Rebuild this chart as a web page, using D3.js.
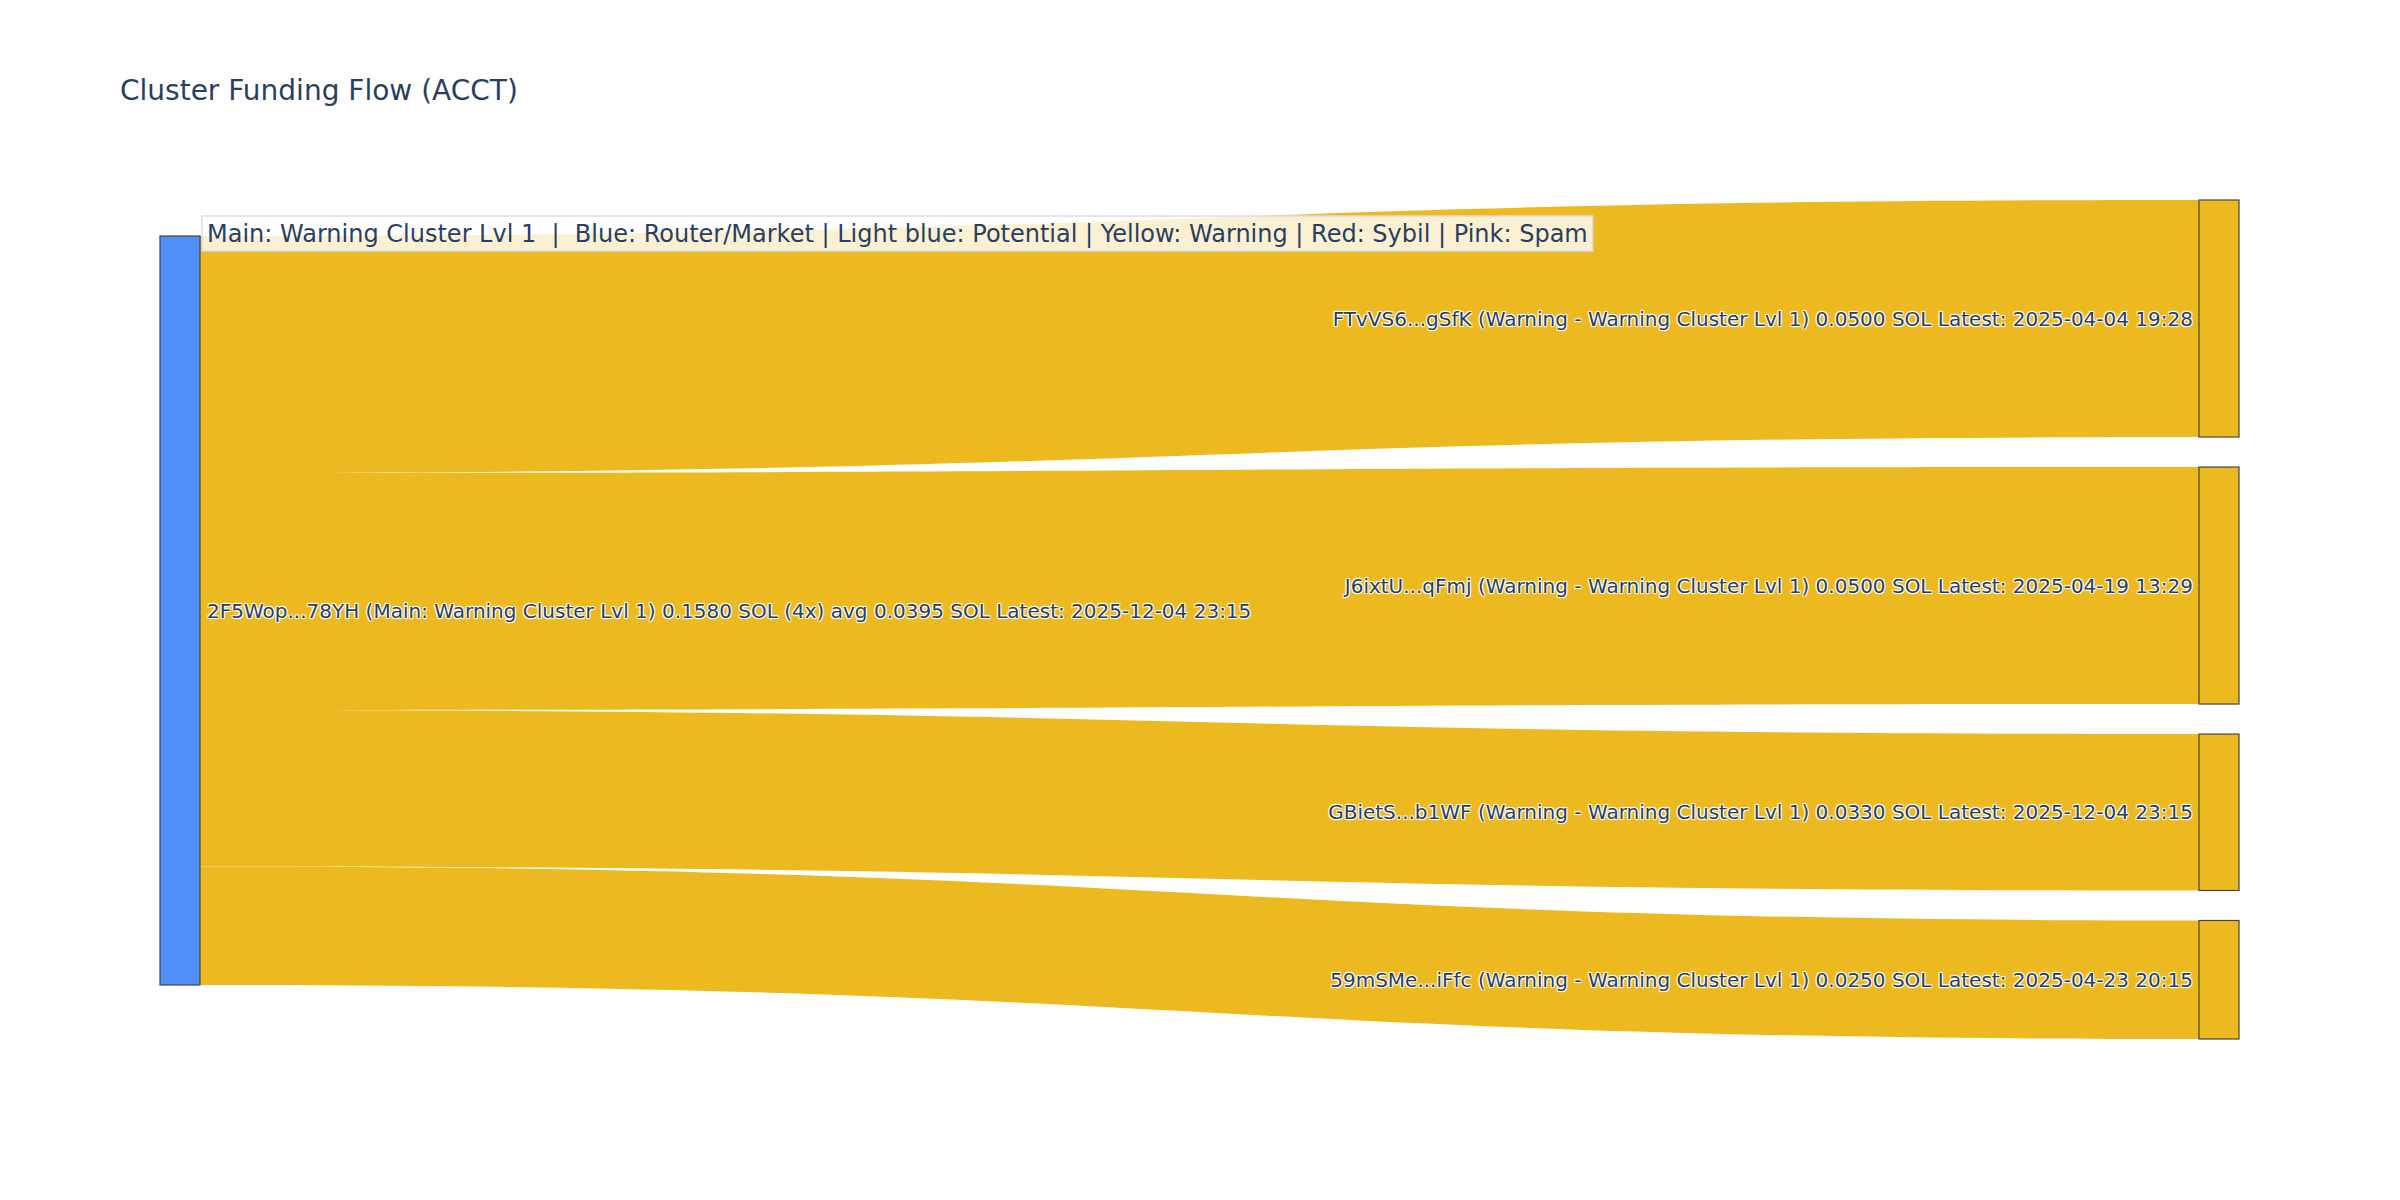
<!DOCTYPE html>
<html>
<head>
<meta charset="utf-8">
<script src="https://cdn.jsdelivr.net/npm/d3@7/dist/d3.min.js"></script>
<style>
  html, body { margin: 0; padding: 0; background: #fff; }
  svg { display: block; }
  .lbl { font-family: "DejaVu Sans", sans-serif; font-size: 20px; fill: #2a3f5f;
         text-shadow: 1px 1px 1px #fff, -1px -1px 1px #fff, 1px -1px 1px #fff, -1px 1px 1px #fff; }
</style>
</head>
<body>
<svg id="chart" width="2400" height="1200"></svg>
<script>
// ---- data ----
const title = "Cluster Funding Flow (ACCT)";
const legendText = "Main: Warning Cluster Lvl 1  |  Blue: Router/Market | Light blue: Potential | Yellow: Warning | Red: Sybil | Pink: Spam";
const sourceLabel = "2F5Wop...78YH (Main: Warning Cluster Lvl 1) 0.1580 SOL (4x) avg 0.0395 SOL Latest: 2025-12-04 23:15";
const targetLabels = [
  "FTvVS6...gSfK (Warning - Warning Cluster Lvl 1) 0.0500 SOL Latest: 2025-04-04 19:28",
  "J6ixtU...qFmj (Warning - Warning Cluster Lvl 1) 0.0500 SOL Latest: 2025-04-19 13:29",
  "GBietS...b1WF (Warning - Warning Cluster Lvl 1) 0.0330 SOL Latest: 2025-12-04 23:15",
  "59mSMe...iFfc (Warning - Warning Cluster Lvl 1) 0.0250 SOL Latest: 2025-04-23 20:15"
];
const flowValues = [0.05, 0.05, 0.033, 0.025];
const sourceColor = "#4f8ff7";
const targetColor = "#ecb921";
const linkColor = "#ecb921";

// ---- layout ----
const svg = d3.select("#chart");
const nodeW = 40;
const xLeft = 160, xRight = 2199;
const rightTop = 200, rightBottom = 1039, pad = 30;
const total = d3.sum(flowValues);
const k = (rightBottom - rightTop - pad * (flowValues.length - 1)) / total;
const h = d3.scaleLinear().domain([0, total]).range([0, k * total]);
const leftTop = 236;

// target node positions
let acc = rightTop;
const targets = flowValues.map((v, i) => {
  const y0 = acc, y1 = acc + h(v);
  acc = y1 + pad;
  return { y0, y1, label: targetLabels[i] };
});
// source segments
let sacc = leftTop;
const links = flowValues.map((v, i) => {
  const s0 = sacc, s1 = sacc + h(v);
  sacc = s1;
  return { s0, s1, t0: targets[i].y0, t1: targets[i].y1 };
});
const leftBottom = sacc;

// links
const x0 = xLeft + nodeW, x1 = xRight;
const xm = d3.interpolateNumber(x0, x1)(0.5);
svg.append("g").selectAll("path").data(links).join("path")
  .attr("d", d => `M${x0},${d.s0}C${xm},${d.s0} ${xm},${d.t0} ${x1},${d.t0}` +
                  `L${x1},${d.t1}C${xm},${d.t1} ${xm},${d.s1} ${x0},${d.s1}Z`)
  .attr("fill", linkColor);

// nodes
svg.append("rect").attr("x", xLeft).attr("y", leftTop)
  .attr("width", nodeW).attr("height", leftBottom - leftTop)
  .attr("fill", sourceColor).attr("stroke", "#444").attr("stroke-width", 1.2);
svg.append("g").selectAll("rect").data(targets).join("rect")
  .attr("x", xRight).attr("y", d => d.y0)
  .attr("width", nodeW).attr("height", d => d.y1 - d.y0)
  .attr("fill", targetColor).attr("stroke", "#444").attr("stroke-width", 1.2);

// labels
svg.append("text").attr("class", "lbl")
  .attr("x", xLeft + nodeW + 7).attr("y", (leftTop + leftBottom) / 2)
  .attr("dy", "0.35em").text(sourceLabel);
svg.append("g").selectAll("text").data(targets).join("text")
  .attr("class", "lbl").attr("text-anchor", "end")
  .attr("x", xRight - 6).attr("y", d => (d.y0 + d.y1) / 2)
  .attr("dy", "0.35em").text(d => d.label);

// legend annotation
const ann = svg.append("g");
const annText = ann.append("text")
  .attr("x", 207).attr("y", 234).attr("dy", "0.35em")
  .style("font-family", "DejaVu Sans, sans-serif").style("font-size", "24px")
  .style("fill", "#2a3f5f").text(legendText).attr("xml:space", "preserve");
const bb = annText.node().getBBox();
ann.insert("rect", "text")
  .attr("x", 202).attr("y", 216).attr("width", bb.width + 10).attr("height", 35)
  .attr("fill", "rgba(255,255,255,0.8)").attr("stroke", "#dcdce4").attr("stroke-width", 1.5);

// title
svg.append("text").attr("x", 120).attr("y", 90).attr("dy", "0.35em")
  .style("font-family", "DejaVu Sans, sans-serif").style("font-size", "28px")
  .style("fill", "#2a3f5f").text(title);
</script>
</body>
</html>
